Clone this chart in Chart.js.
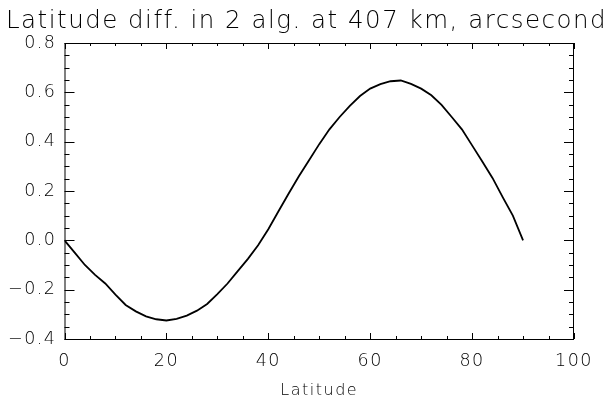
<!DOCTYPE html>
<html>
<head>
<meta charset="utf-8">
<script src="https://cdn.jsdelivr.net/npm/chart.js@4"></script>
<style>
  html, body { margin: 0; padding: 0; background: #fff; }
  #wrap { width: 613px; height: 400px; }
</style>
</head>
<body>
<div id="wrap"><canvas id="latChart" width="613" height="400"></canvas></div>
<script>
// latitude (deg) and difference between the two algorithms (arcsec)
const latitudes = [0, 2, 4, 6, 8, 10, 12, 14, 16, 18, 20, 22, 24, 26, 28, 30, 32, 34, 36, 38,
    40, 42, 44, 46, 48, 50, 52, 54, 56, 58, 60, 62, 64, 66, 68, 70, 72, 74, 76, 78,
    80, 82, 84, 86, 88, 90];
const latDiff = [0.0, -0.05, -0.10, -0.14, -0.175, -0.22, -0.262, -0.288, -0.308, -0.32, -0.325,
    -0.318, -0.305, -0.285, -0.258, -0.218, -0.175, -0.125, -0.075, -0.02,
    0.045, 0.118, 0.19, 0.26, 0.325, 0.39, 0.45, 0.50, 0.545, 0.585, 0.615,
    0.633, 0.645, 0.648, 0.634, 0.615, 0.588, 0.549, 0.50, 0.45,
    0.385, 0.32, 0.253, 0.175, 0.10, 0.0];
const xTicks = [0, 20, 40, 60, 80, 100];
const yTicks = [-0.4, -0.2, 0.0, 0.2, 0.4, 0.6, 0.8];

const FONT = "'DejaVu Sans', sans-serif";

// wide spacing like the IDL vector font
const wideText = {
    id: 'wideText',
    beforeDraw(chart) { chart.ctx.letterSpacing = '1.5px'; },
    afterDraw(chart) { chart.ctx.letterSpacing = '0px'; }
};

// IDL style box with inward ticks on all four sides
const idlAxes = {
    id: 'idlAxes',
    afterDraw(chart) {
        const { ctx, chartArea: a, scales: { x, y } } = chart;
        ctx.save();
        ctx.strokeStyle = '#000';
        ctx.lineWidth = 1;
        ctx.strokeRect(a.left + 0.5, a.top + 0.5, a.right - a.left - 1, a.bottom - a.top);
        ctx.beginPath();
        for (let v = x.min; v <= x.max + 1e-9; v += 5) {
            const px = Math.round(x.getPixelForValue(v)) + 0.5;
            const len = (Math.round(v) % 20 === 0) ? 6 : 3;
            ctx.moveTo(px, a.bottom); ctx.lineTo(px, a.bottom - len);
            ctx.moveTo(px, a.top); ctx.lineTo(px, a.top + len);
        }
        for (let i = 0; i <= 24; i++) {
            const v = y.min + i * 0.05;
            const py = Math.round(y.getPixelForValue(v)) + 0.5;
            const len = (i % 4 === 0) ? 10 : 5;
            ctx.moveTo(a.left, py); ctx.lineTo(a.left + len, py);
            ctx.moveTo(a.right, py); ctx.lineTo(a.right - len, py);
        }
        ctx.stroke();
        ctx.restore();
    }
};

new Chart(document.getElementById('latChart'), {
    type: 'line',
    data: {
        labels: latitudes,
        datasets: [{
            data: latitudes.map((v, i) => ({ x: v, y: latDiff[i] })),
            borderColor: '#000',
            borderWidth: 1.8,
            pointRadius: 0,
            tension: 0,
            fill: false
        }]
    },
    options: {
        responsive: false,
        animation: false,
        layout: { padding: 0 },
        plugins: {
            legend: { display: false },
            tooltip: { enabled: false },
            title: {
                display: true,
                text: 'Latitude diff. in 2 alg. at 407 km, arcsecond',
                color: '#000',
                font: { family: FONT, size: 24.5, weight: '200' },
                padding: { top: 7, bottom: 6.6 }
            }
        },
        scales: {
            x: {
                type: 'linear',
                min: 0,
                max: 100,
                afterBuildTicks: s => { s.ticks = xTicks.map(v => ({ value: v })); },
                afterFit: s => { s.height = 61; },
                grid: { display: false, drawTicks: false },
                border: { display: false },
                ticks: {
                    color: '#000',
                    padding: 12,
                    maxRotation: 0,
                    font: { family: FONT, size: 17.5, weight: '200' }
                },
                title: {
                    display: true,
                    text: 'Latitude',
                    color: '#000',
                    padding: { top: 0, bottom: 0 },
                    font: { family: FONT, size: 16, weight: '200' }
                }
            },
            y: {
                type: 'linear',
                min: -0.4,
                max: 0.8,
                afterBuildTicks: s => { s.ticks = yTicks.map(v => ({ value: v })); },
                afterFit: s => { s.width = 64.5; },
                grid: { display: false, drawTicks: false },
                border: { display: false },
                ticks: {
                    color: '#000',
                    padding: 8,
                    font: { family: FONT, size: 17.5, weight: '200' },
                    callback: v => v.toFixed(1).replace('-', '\u2212')
                }
            },
            // empty right margin so the title stays centred on the page
            yRight: {
                type: 'linear',
                position: 'right',
                min: -0.4,
                max: 0.8,
                afterFit: s => { s.width = 39; },
                grid: { display: false, drawTicks: false },
                border: { display: false },
                ticks: { display: false }
            }
        }
    },
    plugins: [wideText, idlAxes]
});
</script>
</body>
</html>
